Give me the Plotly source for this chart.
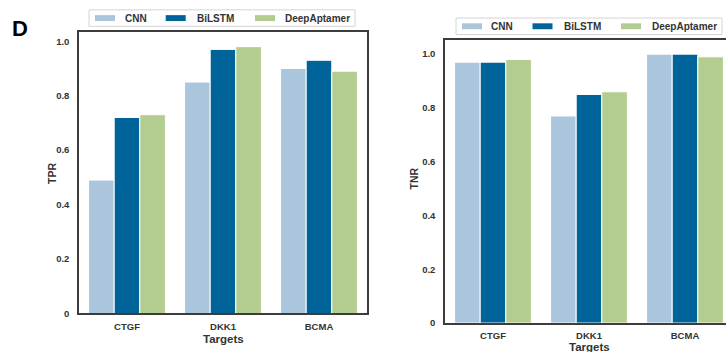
import plotly.graph_objects as go

# Data
targets = ["CTGF", "DKK1", "BCMA"]
models = ["CNN", "BiLSTM", "DeepAptamer"]
tpr_values = {
    "CNN": [0.49, 0.85, 0.90],
    "BiLSTM": [0.72, 0.97, 0.93],
    "DeepAptamer": [0.73, 0.98, 0.89],
}
tnr_values = {
    "CNN": [0.97, 0.77, 1.00],
    "BiLSTM": [0.97, 0.85, 1.00],
    "DeepAptamer": [0.98, 0.86, 0.99],
}
colors = {"CNN": "#abc5dc", "BiLSTM": "#00639a", "DeepAptamer": "#b3cd90"}
y_ticks = [0, 0.2, 0.4, 0.6, 0.8, 1.0]
y_tick_text = ["0", "0.2", "0.4", "0.6", "0.8", "1.0"]

W, H = 726, 352
FONT = "Liberation Sans, Arial, sans-serif"
TXT = "#333333"
FRAME = "#3c3c3c"


def px_x(x):
    return x / W


def px_y(y):
    return 1 - y / H


fig = go.Figure()

for m in models:
    fig.add_trace(go.Bar(
        x=targets, y=tpr_values[m], name=m, xaxis="x", yaxis="y",
        marker=dict(color=colors[m], line=dict(color="white", width=1)),
        showlegend=False,
    ))
for m in models:
    fig.add_trace(go.Bar(
        x=targets, y=tnr_values[m], name=m, xaxis="x2", yaxis="y2",
        marker=dict(color=colors[m], line=dict(color="white", width=1)),
        showlegend=False,
    ))

tickfont = dict(family=FONT, size=9.5, color=TXT, weight="bold")

xcommon = dict(
    type="category", showgrid=False, zeroline=False,
    showline=True, linecolor=FRAME, linewidth=1.5,
    ticks="", tickfont=tickfont, ticklabelstandoff=3,
)
ycommon = dict(
    showgrid=False, zeroline=False, showline=True, linecolor=FRAME,
    linewidth=1.5, ticks="", tickvals=y_ticks, ticktext=y_tick_text,
    tickfont=tickfont, ticklabelstandoff=6,
)

fig.update_layout(
    width=W, height=H,
    margin=dict(l=0, r=0, t=0, b=0),
    paper_bgcolor="white", plot_bgcolor="white",
    barmode="group", bargap=0.2, bargroupgap=0,
    xaxis=dict(**xcommon, domain=[px_x(79), px_x(367)], range=[-0.5, 2.5],
               mirror=True, anchor="y"),
    yaxis=dict(**ycommon, domain=[px_y(318), px_y(32.7)], range=[0, 1.033],
               mirror=True, anchor="x"),
    # right panel runs past the page edge, so its right border is not drawn
    xaxis2=dict(**xcommon, domain=[px_x(445), 1.0],
                range=[-0.5, 2.5 - (733 - 726) / 96], mirror=True, anchor="y2"),
    yaxis2=dict(**ycommon, domain=[px_y(327.7), px_y(41)], range=[0, 1.051],
                mirror=False, anchor="x2"),
)

annotations = []
shapes = []


def text(x, y, s, size, angle=0, xanchor="center"):
    annotations.append(dict(
        x=px_x(x), y=px_y(y), xref="paper", yref="paper", text=s,
        showarrow=False, textangle=angle, xanchor=xanchor, yanchor="middle",
        font=dict(family=FONT, size=size, color=TXT if size < 15 else "black",
                  weight="bold"),
    ))


# panel letter
text(19.5, 28.5, "D", 22)

# axis titles
text(223, 343.5, "Targets", 11.5)
text(589, 352, "Targets", 11.5)
text(51.5, 176, "TPR", 10.5, angle=-90)
text(414, 181, "TNR", 10.5, angle=-90)


def legend(x0, y0, x1, y1, swatch_x, label_x):
    shapes.append(dict(type="rect", xref="paper", yref="paper",
                       x0=px_x(x0), x1=px_x(x1), y0=px_y(y1), y1=px_y(y0),
                       line=dict(color="#d4d4d4", width=1), fillcolor="white"))
    yc = (y0 + y1) / 2
    for m, sx, lx in zip(models, swatch_x, label_x):
        shapes.append(dict(type="rect", xref="paper", yref="paper",
                           x0=px_x(sx), x1=px_x(sx + 20),
                           y0=px_y(yc + 3), y1=px_y(yc - 3),
                           line=dict(width=0), fillcolor=colors[m]))
        text(lx, yc, m, 10, xanchor="left")


legend(89, 10, 355, 26.7, [95, 165.7, 255], [122.5, 194.5, 283])
legend(456, 18.3, 722, 35, [462, 532.5, 621], [489.5, 561.5, 649.5])

fig.update_layout(annotations=annotations, shapes=shapes)

fig.write_html("out.html")
